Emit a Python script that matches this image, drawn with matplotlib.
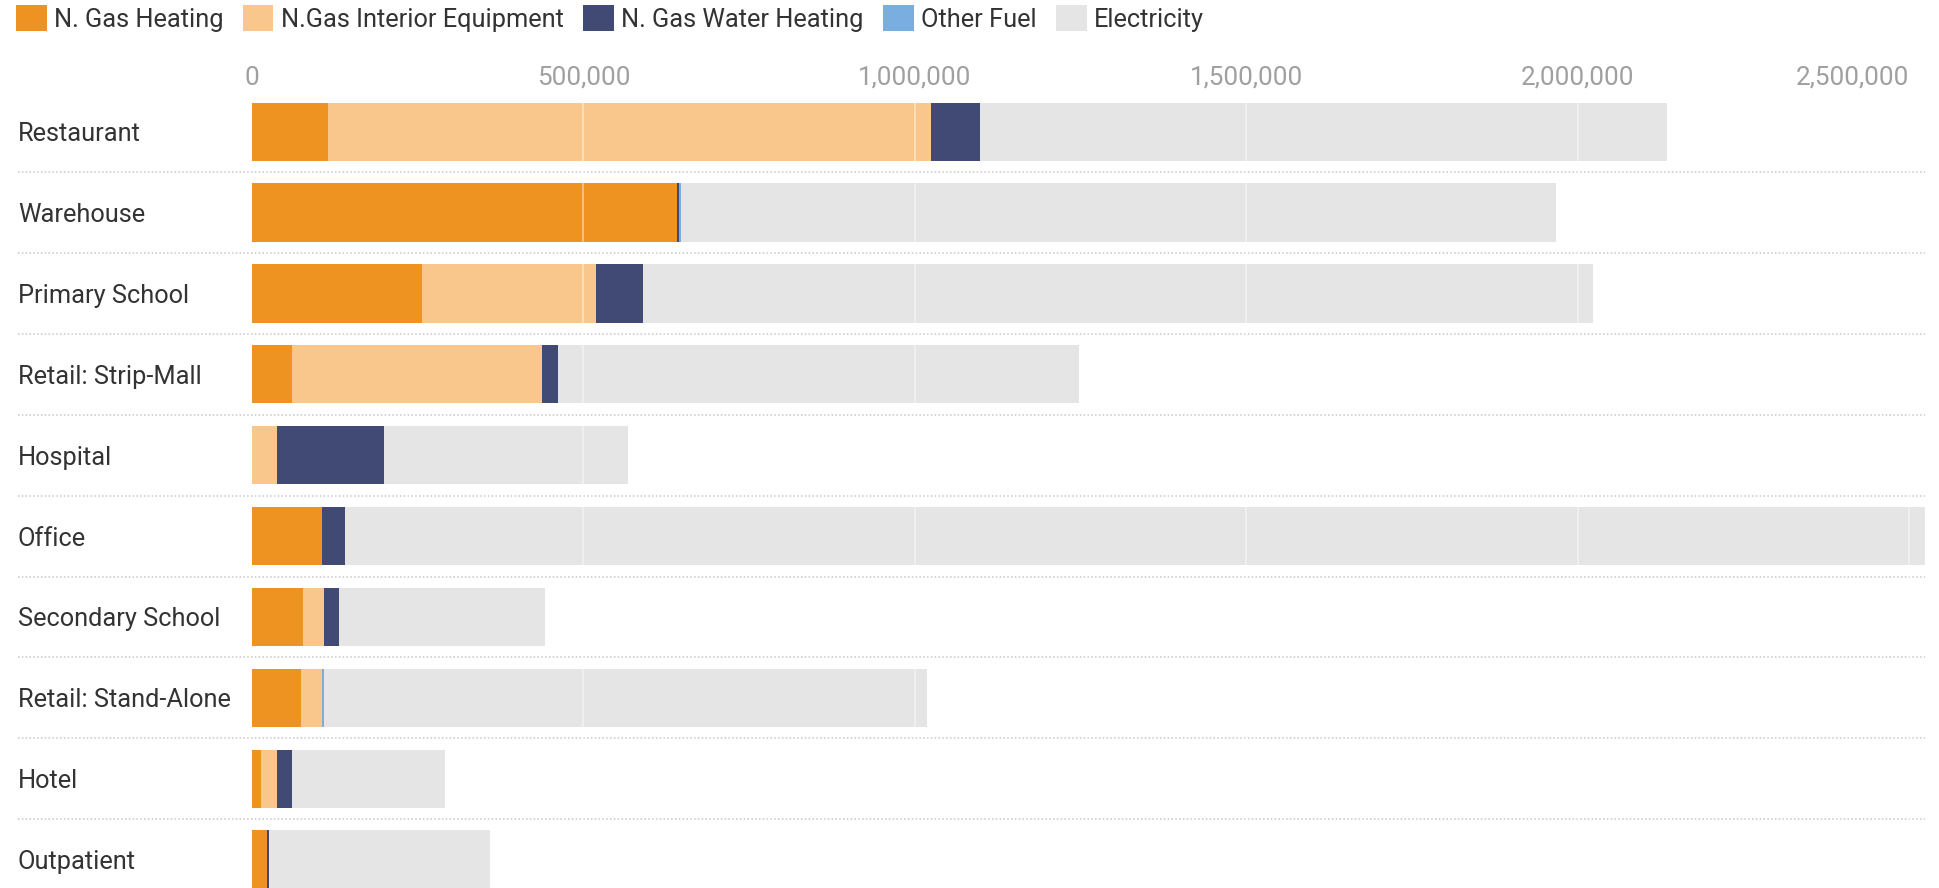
import numpy as np
import matplotlib
matplotlib.use("Agg")
import matplotlib.pyplot as plt
from matplotlib.patches import Patch

# Datos (valores por segmento, no acumulados)
categorias = ["Restaurant", "Warehouse", "Primary School", "Retail: Strip-Mall",
              "Hospital", "Office", "Secondary School", "Retail: Stand-Alone",
              "Hotel", "Outpatient"]
gas_calefaccion = [115000, 641000, 256000, 61000, 0, 106000, 77000, 74000, 13000, 22000]
gas_equipos = [910000, 0, 263000, 377000, 38000, 0, 32000, 32000, 25000, 0]
gas_agua = [74000, 3000, 71000, 23000, 161000, 35000, 22000, 0, 23000, 3000]
otro_combustible = [0, 3000, 0, 0, 0, 0, 0, 3000, 0, 0]
electricidad = [1036000, 1320000, 1434000, 787000, 368000, 2384000, 311000, 910000, 230000, 334000]

series = ["N. Gas Heating", "N.Gas Interior Equipment", "N. Gas Water Heating",
          "Other Fuel", "Electricity"]
colores = ["#ee9322", "#f9c68b", "#414a74", "#7aaee0", "#e5e5e5"]
ticks = [0, 500000, 1000000, 1500000, 2000000, 2500000]

plt.rcParams["font.family"] = ["Roboto", "DejaVu Sans"]

W, H = 1939, 888
fig = plt.figure(figsize=(W / 100, H / 100), dpi=100, facecolor="white")

# posicion de los ejes en pixeles
x0, x1 = 252, 1925.5
y_top = 91.3
paso = 80.87
ax = fig.add_axes([x0 / W, 0, (x1 - x0) / W, 1 - y_top / H])
ax.set_xlim(0, 2525000)
ax.set_ylim(-0.5 + (H - y_top) / paso, -0.5)

y = np.arange(len(categorias))
izq = np.zeros(len(categorias))
valores = [gas_calefaccion, gas_equipos, gas_agua, otro_combustible, electricidad]
for vals, col in zip(valores, colores):
    vals = np.array(vals, dtype=float)
    ax.barh(y, vals, left=izq, height=0.72, color=col, linewidth=0, zorder=2)
    izq += vals

# lineas de la grilla sobre las barras
for t in ticks[1:]:
    ax.axvline(t, color="white", alpha=0.45, lw=1.3, zorder=3)

# separadores punteados
for i in range(len(categorias) - 1):
    ax.axhline(i + 0.5, xmin=(18 - x0) / (x1 - x0), xmax=1, color="#c8c8c8",
               lw=1.1, ls=(0, (1, 1.5)), clip_on=False, zorder=1)

for s in ax.spines.values():
    s.set_visible(False)

ax.xaxis.tick_top()
ax.set_xticks(ticks)
ax.set_xticklabels([f"{t:,}" for t in ticks], fontsize=18.8, color="#a0a0a0")
ax.tick_params(axis="x", length=0, pad=1)
ax.get_xticklabels()[-1].set_horizontalalignment("right")

ax.set_yticks(y)
ax.set_yticklabels(categorias, fontsize=18.3, color="#333333")
ax.tick_params(axis="y", length=0, pad=(x0 - 18) * 0.72)
for lbl in ax.get_yticklabels():
    lbl.set_horizontalalignment("left")

handles = [Patch(facecolor=c, edgecolor="none") for c in colores]
fig.legend(handles, series, loc="upper left", bbox_to_anchor=(16 / W, 1 - 5 / H),
           ncol=5, frameon=False, fontsize=18.3, handlelength=1.2, handleheight=1.2,
           handletextpad=0.3, columnspacing=0.76, borderpad=0, borderaxespad=0,
           labelcolor="#333333")

plt.savefig("out.png", dpi=100, facecolor="white")
plt.close()
